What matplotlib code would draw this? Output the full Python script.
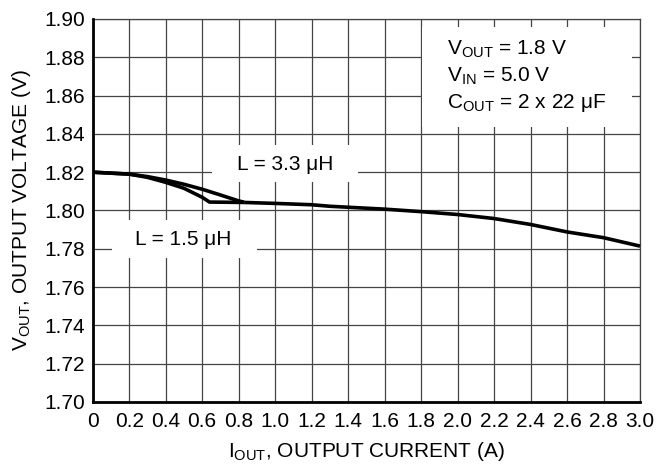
import matplotlib
matplotlib.use('Agg')
import matplotlib.pyplot as plt
from matplotlib.patches import Rectangle

# output current (A) / output voltage (V)
i_33 = [0.0, 0.2, 0.3, 0.4, 0.5, 0.6, 0.7, 0.8, 0.83]
v_33 = [1.8200, 1.8190, 1.8177, 1.8159, 1.8137, 1.8111, 1.8081, 1.8050, 1.8043]

i_15 = [0.0, 0.2, 0.3, 0.4, 0.5, 0.6, 0.64, 0.83]
v_15 = [1.8200, 1.8190, 1.8173, 1.8147, 1.8116, 1.8069, 1.8044, 1.8042]

# both inductors give the same curve above ~0.8 A
i_tail = [0.83, 1.0, 1.2, 1.3, 1.4, 1.6, 1.8, 2.0, 2.2, 2.4, 2.6, 2.8, 3.0]
v_tail = [1.8042, 1.8037, 1.8030, 1.8022, 1.8017, 1.8007, 1.7994, 1.7979,
          1.7958, 1.7927, 1.7888, 1.7858, 1.7814]

x_ticks = [0, 0.2, 0.4, 0.6, 0.8, 1.0, 1.2, 1.4, 1.6, 1.8, 2.0, 2.2, 2.4, 2.6, 2.8, 3.0]
x_labels = ['0', '0.2', '0.4', '0.6', '0.8', '1.0', '1.2', '1.4', '1.6', '1.8',
            '2.0', '2.2', '2.4', '2.6', '2.8', '3.0']
y_ticks = [1.70, 1.72, 1.74, 1.76, 1.78, 1.80, 1.82, 1.84, 1.86, 1.88, 1.90]

plt.rcParams['font.family'] = ['Liberation Sans', 'DejaVu Sans']
plt.rcParams['mathtext.default'] = 'regular'

fs = 15
mu = '\u03bc'

fig = plt.figure(figsize=(6.6, 4.69), dpi=100)
ax = fig.add_axes([0.1405, 0.1429, 0.8292, 0.8166])

ax.set_xlim(0, 3.0)
ax.set_ylim(1.70, 1.90)
ax.set_xticks(x_ticks)
ax.set_xticklabels(x_labels)
ax.set_yticks(y_ticks)
ax.set_yticklabels(['%.2f' % y for y in y_ticks])
ax.tick_params(length=0, labelsize=fs, colors='black')
ax.tick_params(axis='x', pad=7)
ax.tick_params(axis='y', pad=5.5)

ax.grid(True, color='#444444', linewidth=0.9)
ax.set_axisbelow(True)
for s in ['left', 'bottom']:
    ax.spines[s].set_linewidth(2.0)
    ax.spines[s].set_zorder(5)
for s in ['top', 'right']:
    ax.spines[s].set_linewidth(0.9)
    ax.spines[s].set_color('#444444')

# white label backgrounds that break the grid
for (x0, y0, w, h) in [(0.652, 1.8150, 0.804, 0.0192),
                       (0.104, 1.7750, 0.794, 0.0200),
                       (1.804, 1.8436, 1.150, 0.0522)]:
    ax.add_patch(Rectangle((x0, y0), w, h, facecolor='white', edgecolor='none', zorder=1.5))

lw = 2.6
ax.plot(i_33, v_33, color='black', lw=lw, zorder=3, solid_capstyle='butt')
ax.plot(i_15, v_15, color='black', lw=lw, zorder=3, solid_capstyle='butt')
ax.plot(i_tail, v_tail, color='black', lw=lw, zorder=3, solid_capstyle='butt',
        clip_on=False)

ax.text(1.053, 1.8238, 'L = 3.3 ' + mu + 'H', fontsize=fs, ha='center', va='center', zorder=4)
ax.text(0.496, 1.7846, 'L = 1.5 ' + mu + 'H', fontsize=fs, ha='center', va='center', zorder=4)

ax.text(1.94, 1.8812, r'V$_{OUT}$ = 1.8 V', fontsize=fs, va='baseline', zorder=4)
ax.text(1.94, 1.8671, r'V$_{IN}$ = 5.0 V', fontsize=fs, va='baseline', zorder=4)
ax.text(1.94, 1.8535, r'C$_{OUT}$ = 2 x 22 ' + mu + 'F', fontsize=fs, va='baseline', zorder=4)

ax.set_xlabel(r'I$_{OUT}$, OUTPUT CURRENT (A)', fontsize=fs)
ax.set_ylabel(r'V$_{OUT}$, OUTPUT VOLTAGE (V)', fontsize=fs)
ax.xaxis.set_label_coords(0.5, -0.1)
ax.yaxis.set_label_coords(-0.11, 0.5)

fig.savefig('out.png', dpi=100)
